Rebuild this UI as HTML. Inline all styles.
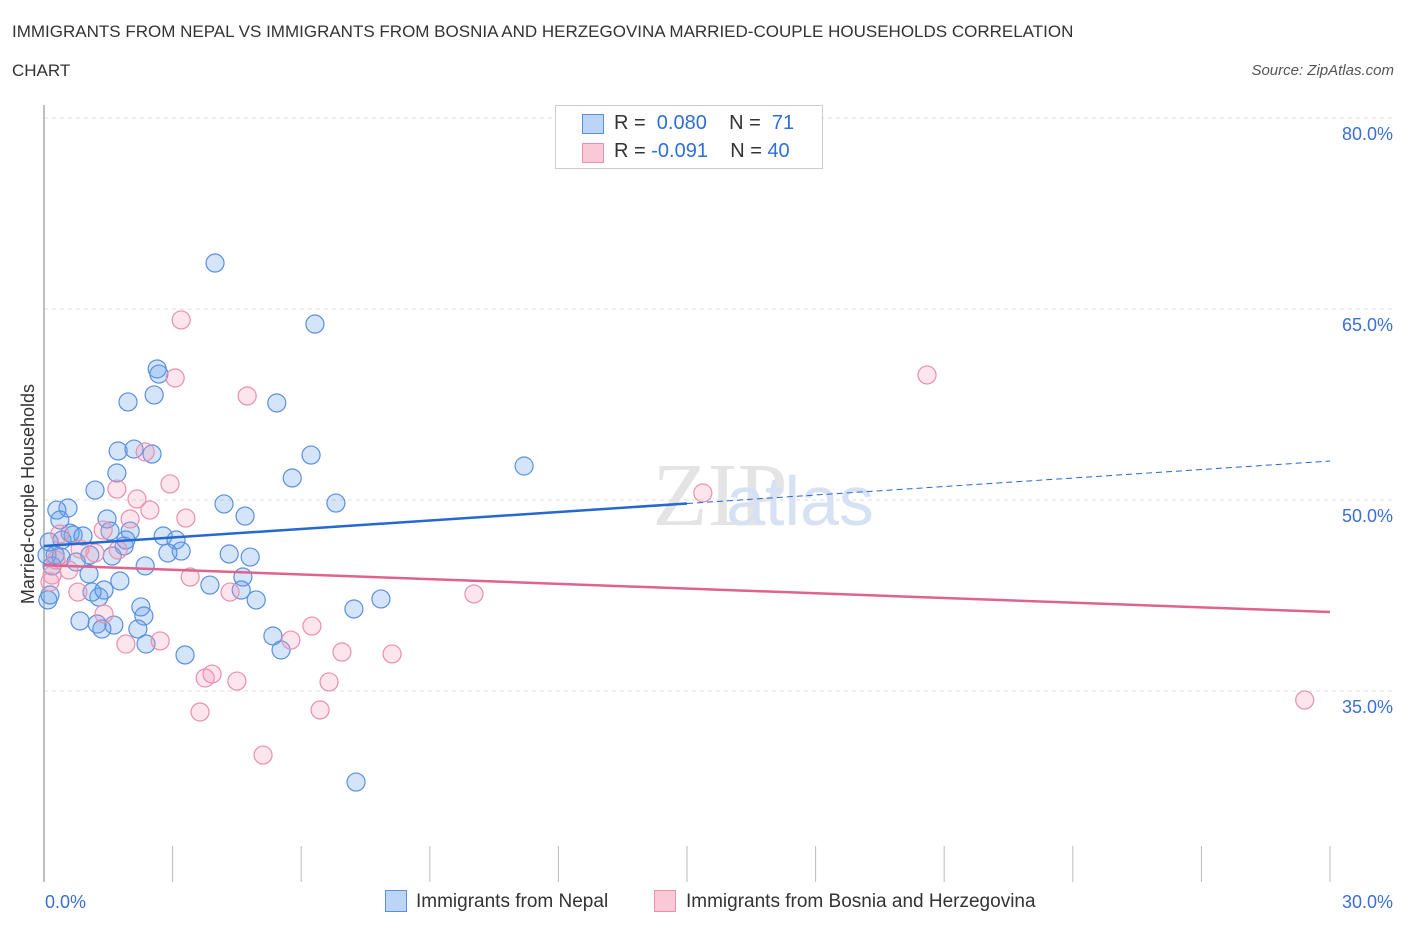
<!DOCTYPE html>
<html><head><meta charset="utf-8"><style>
body{margin:0;background:#fff;font-family:"Liberation Sans",sans-serif;}
#wrap{position:relative;width:1406px;height:930px;}
.t{position:absolute;color:#333;font-size:17px;}
</style></head><body>
<div id="wrap">
<div class="t" style="left:12px;top:22px;">IMMIGRANTS FROM NEPAL VS IMMIGRANTS FROM BOSNIA AND HERZEGOVINA MARRIED-COUPLE HOUSEHOLDS CORRELATION</div>
<div class="t" style="left:12px;top:61px;">CHART</div>
<div class="t" style="right:12px;top:62px;font-size:15px;font-style:italic;color:#555;">Source: ZipAtlas.com</div>
<svg id="svg" width="1406" height="930" style="position:absolute;left:0;top:0"></svg>
</div>
<script>
const yTicks=[80,65,50,35];
const xTickLabels=["0.0%","30.0%"];
const nepalX=[3.99,6.32,2.64,2.68,2.57,1.96,5.43,1.73,2.10,2.52,6.23,1.70,11.20,5.79,1.19,4.20,6.81,0.56,0.30,4.69,1.47,2.01,0.61,0.68,0.42,0.91,1.54,1.87,1.91,2.78,3.08,3.20,2.89,4.32,4.81,1.59,0.40,1.07,0.07,0.26,0.75,2.36,4.64,1.05,1.77,3.87,1.28,1.12,1.40,4.60,4.95,7.86,7.23,2.26,2.33,0.84,1.24,1.63,1.35,2.19,5.34,2.38,5.53,3.29,7.28,0.09,0.14,0.19,0.12,0.37];
const nepalY=[68.61,63.82,60.29,59.89,58.25,57.70,57.62,53.85,54.00,53.61,53.53,52.12,52.67,51.73,50.78,49.69,49.76,49.37,49.21,48.74,48.51,47.56,47.40,47.25,46.86,47.17,47.56,46.39,46.86,47.17,46.86,45.99,45.84,45.76,45.52,45.60,45.52,45.68,45.68,45.68,45.13,44.82,43.95,44.19,43.64,43.32,42.38,42.77,42.93,42.93,42.15,42.23,41.44,41.60,40.89,40.50,40.26,40.18,39.87,39.87,39.32,38.69,38.22,37.83,27.85,42.15,42.54,44.82,46.70,48.43];
const bosX=[3.20,3.06,20.60,4.74,2.36,2.94,1.70,2.17,2.47,3.31,2.01,0.37,1.38,0.84,1.73,1.19,0.28,0.19,3.41,0.58,0.79,4.34,10.03,1.40,6.25,5.76,1.91,2.71,6.95,8.12,3.76,3.92,4.50,6.65,3.64,6.44,5.11,15.37,29.41,0.14];
const bosY=[64.14,59.58,59.82,58.17,53.77,51.26,50.86,50.08,49.21,48.58,48.51,47.33,47.64,46.15,46.07,45.84,45.29,44.11,43.95,44.50,42.77,42.77,42.62,41.05,40.10,39.00,38.69,38.93,38.06,37.91,36.02,36.33,35.78,35.71,33.35,33.51,29.97,50.55,34.29,43.56];
const nepalTrend=[46.39,53.06];
const bosTrend=[44.89,41.20];
const X0=44,X1=1330;
const sx=v=>X0+v/30*(X1-X0);
const sy=v=>118+(80-v)*(191/15);
const svg=document.getElementById('svg');
const NS='http://www.w3.org/2000/svg';
function mk(t,a){const e=document.createElementNS(NS,t);for(const k in a)e.setAttribute(k,a[k]);svg.appendChild(e);return e;}
yTicks.forEach(v=>{
 const g=mk('line',{x1:X0,x2:1392,y1:sy(v),y2:sy(v),stroke:'#ddd','stroke-dasharray':'4,4'});
 
 
 const t=mk('text',{x:1393,y:sy(v)+22,'text-anchor':'end',fill:'#3b6fd4','font-size':18});
 t.textContent=v.toFixed(1)+'%';
 
 
});
const ax=mk('line',{x1:X0,x2:X0,y1:105,y2:882,stroke:'#aaa','stroke-width':1.5});


for(let i=1;i<=10;i++){const x=sx(i*3);const tk=mk('line',{x1:x,x2:x,y1:846,y2:882,stroke:'#bbb'});
 
 }
const xl0=mk('text',{x:45,y:908,fill:'#3b6fd4','font-size':18});xl0.textContent=xTickLabels[0];


const xl1=mk('text',{x:1393,y:908,'text-anchor':'end',fill:'#3b6fd4','font-size':18});xl1.textContent=xTickLabels[1];


const yt=mk('text',{x:34,y:494,transform:'rotate(-90 34 494)','text-anchor':'middle',fill:'#333','font-size':18});yt.textContent='Married-couple Households';


const wm=mk('text',{x:720,y:525,'text-anchor':'middle','font-size':90,fill:'#e4e4e4','font-family':'Liberation Serif'});wm.textContent='ZIP';


const wm2=mk('text',{x:800,y:525,'text-anchor':'middle','font-size':70,fill:'#d6e2f3'});wm2.textContent='atlas';


nepalX.forEach((x,i)=>{const c=mk('circle',{cx:sx(x),cy:sy(nepalY[i]),r:9,fill:'rgba(100,160,235,0.28)',stroke:'#5a8fe0','stroke-width':1.2});
 
 });
bosX.forEach((x,i)=>{const c=mk('circle',{cx:sx(x),cy:sy(bosY[i]),r:9,fill:'rgba(245,150,180,0.25)',stroke:'#ea8fae','stroke-width':1.2});
 
 });
const mid=nepalTrend[0]+(nepalTrend[1]-nepalTrend[0])*0.5;
const l1=mk('line',{x1:sx(0),y1:sy(nepalTrend[0]),x2:sx(15),y2:sy(mid),stroke:'#2468d0','stroke-width':2.5});


const l2=mk('line',{x1:sx(15),y1:sy(mid),x2:sx(30),y2:sy(nepalTrend[1]),stroke:'#2468d0','stroke-width':1,'stroke-dasharray':'6,4'});


const l3=mk('line',{x1:sx(0),y1:sy(bosTrend[0]),x2:sx(30),y2:sy(bosTrend[1]),stroke:'#e0628f','stroke-width':2.5});


</script>
<div style="position:absolute;left:555px;top:105px;width:266px;height:62px;border:1px solid #ccc;background:#fff;font-size:20px;color:#333;">
 <div style="position:absolute;left:26px;top:8px;width:20px;height:18px;background:#bcd4f6;border:1px solid #5a8fe0"></div>
 <div style="position:absolute;left:58px;top:6px;">R = <span style="color:#2e6fd8">&nbsp;0.080</span>&nbsp;&nbsp;&nbsp; N = &nbsp;<span style="color:#2e6fd8">71</span></div>
 <div style="position:absolute;left:26px;top:37px;width:20px;height:18px;background:#f9c9d8;border:1px solid #ea8fae"></div>
 <div style="position:absolute;left:58px;top:34px;">R = <span style="color:#2e6fd8">-0.091</span>&nbsp;&nbsp;&nbsp; N = <span style="color:#2e6fd8">40</span></div>
</div>
<div style="position:absolute;left:385px;top:890px;width:20px;height:20px;background:#bcd4f6;border:1px solid #5a8fe0"></div>
<div class="t" style="left:416px;top:891px;font-size:19px;">Immigrants from Nepal</div>
<div style="position:absolute;left:654px;top:890px;width:20px;height:20px;background:#f9c9d8;border:1px solid #ea8fae"></div>
<div class="t" style="left:686px;top:891px;font-size:19px;">Immigrants from Bosnia and Herzegovina</div>
</body></html>
